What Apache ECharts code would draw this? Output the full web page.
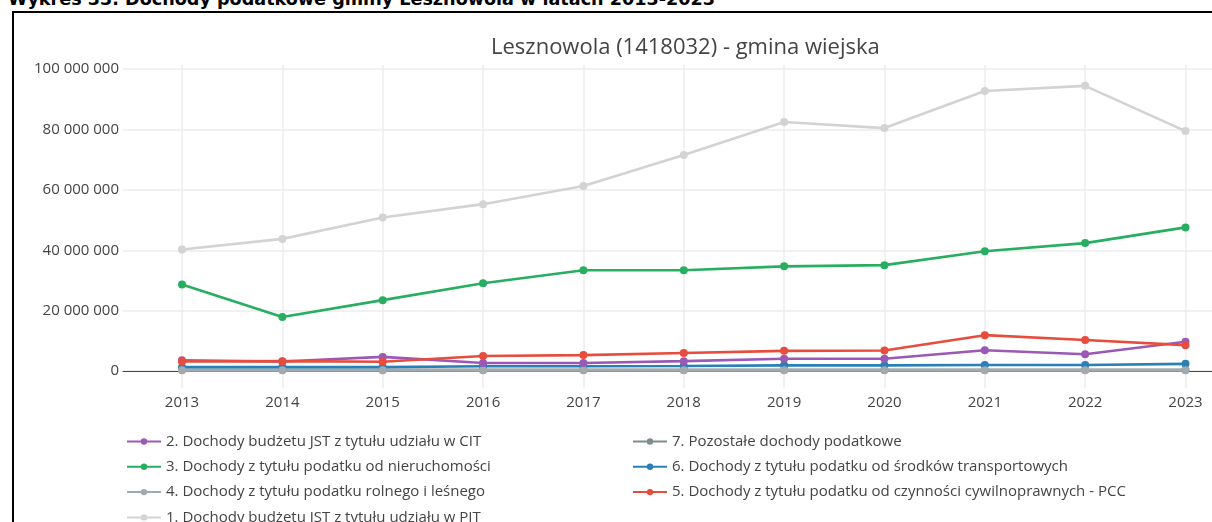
<!DOCTYPE html>
<html lang="pl">
<head>
<meta charset="utf-8">
<title>Dochody podatkowe gminy Lesznowola</title>
<script src="https://cdn.jsdelivr.net/npm/echarts@6/dist/echarts.min.js"></script>
<style>
  html, body { margin: 0; padding: 0; background: #fff; overflow: hidden; }
  #heading {
    position: absolute; left: 8px; top: -10px; white-space: nowrap;
    font: bold 17.6px "DejaVu Sans", sans-serif; line-height: 18px; color: #000;
  }
  #frame {
    position: absolute; left: 12px; top: 11px; width: 1400px; height: 700px;
    border-left: 2px solid #000; border-top: 2px solid #000; box-sizing: border-box;
  }
  #chart { position: absolute; left: 0; top: 0; width: 1212px; height: 522px; }
</style>
</head>
<body>
<div id="heading">Wykres 33. Dochody podatkowe gminy Lesznowola w latach 2013-2023</div>
<div id="frame"></div>
<div id="chart"></div>
<script>
// Lata
const years = [2013, 2014, 2015, 2016, 2017, 2018, 2019, 2020, 2021, 2022, 2023];

// Dochody podatkowe (zł)
const pit        = [40300000, 43800000, 50900000, 55300000, 61300000, 71600000, 82500000, 80500000, 92800000, 94500000, 79500000];
const cit        = [3600000, 3200000, 4700000, 2700000, 2700000, 3300000, 4100000, 4100000, 6900000, 5600000, 9700000];
const nieruch    = [28700000, 17900000, 23500000, 29100000, 33400000, 33400000, 34700000, 35100000, 39700000, 42400000, 47600000];
const rolny      = [250000, 250000, 250000, 250000, 250000, 250000, 250000, 250000, 250000, 250000, 250000];
const pcc        = [3200000, 3300000, 3100000, 5000000, 5300000, 6000000, 6700000, 6800000, 11900000, 10300000, 8600000];
const transport  = [1300000, 1300000, 1300000, 1600000, 1600000, 1700000, 1900000, 1900000, 2000000, 2000000, 2400000];
const pozostale  = [400000, 400000, 400000, 400000, 400000, 400000, 400000, 400000, 400000, 400000, 400000];

// Podziałka osi Y
const yTicks = [0, 20000000, 40000000, 60000000, 80000000, 100000000];

const names = {
  cit: '2. Dochody budżetu JST z tytułu udziału w CIT',
  nieruch: '3. Dochody z tytułu podatku od nieruchomości',
  rolny: '4. Dochody z tytułu podatku rolnego i leśnego',
  pit: '1. Dochody budżetu JST z tytułu udziału w PIT',
  pozostale: '7. Pozostałe dochody podatkowe',
  transport: '6. Dochody z tytułu podatku od środków transportowych',
  pcc: '5. Dochody z tytułu podatku od czynności cywilnoprawnych - PCC'
};

const FONT = '"Open Sans", sans-serif';
const TXT = '#444';

function fmt(v) {
  return String(Math.round(v)).replace(/\B(?=(\d{3})+(?!\d))/g, ' ');
}

function line(name, values, color) {
  return {
    name: name,
    type: 'line',
    data: years.map((y, i) => [y, values[i]]),
    symbol: 'circle',
    symbolSize: 8,
    lineStyle: { color: color, width: 2.6 },
    itemStyle: { color: color },
    emphasis: { disabled: true },
    animation: false
  };
}

const legendBase = {
  orient: 'vertical', top: 434, padding: 0, height: 140,
  itemWidth: 34, itemHeight: 8, itemGap: 10.3,
  textStyle: { fontFamily: FONT, fontSize: 15, color: TXT }
};

const chart = echarts.init(document.getElementById('chart'), null, { renderer: 'canvas' });

chart.setOption({
  backgroundColor: 'transparent',
  title: {
    text: 'Lesznowola (1418032) - gmina wiejska',
    left: 491, top: 37, padding: 0,
    textStyle: { fontFamily: FONT, fontSize: 22, fontWeight: 'normal', color: TXT }
  },
  grid: { left: 123, right: 0, top: 65, bottom: 134, containLabel: false },
  xAxis: {
    type: 'value',
    min: 2012.412,
    max: 2023.264,
    axisLine: { show: true, onZero: true, lineStyle: { color: '#444', width: 1 } },
    axisTick: { show: false, customValues: years },
    axisLabel: {
      customValues: years, margin: 7, color: TXT, fontFamily: FONT, fontSize: 15,
      formatter: v => String(v)
    },
    splitLine: { show: true, lineStyle: { color: '#ececec', width: 1.5 } }
  },
  yAxis: {
    type: 'value',
    min: -5600000,
    max: 101400000,
    axisLine: { show: false },
    axisTick: { show: false, customValues: yTicks },
    axisLabel: { customValues: yTicks, margin: 4, color: TXT, fontFamily: FONT, fontSize: 15, formatter: fmt },
    splitLine: { show: true, lineStyle: { color: '#ececec', width: 1.5 } }
  },
  legend: [
    Object.assign({}, legendBase, {
      left: 126,
      data: [names.cit, names.nieruch, names.rolny, names.pit]
    }),
    Object.assign({}, legendBase, {
      left: 632,
      data: [names.pozostale, names.transport, names.pcc]
    })
  ],
  series: [
    line(names.pit, pit, '#d3d3d3'),
    line(names.pozostale, pozostale, '#7f8c8d'),
    line(names.transport, transport, '#2980b9'),
    line(names.rolny, rolny, '#a4a9ad'),
    line(names.cit, cit, '#9b59b6'),
    line(names.pcc, pcc, '#e74c3c'),
    line(names.nieruch, nieruch, '#27ae60')
  ]
});
</script>
</body>
</html>
